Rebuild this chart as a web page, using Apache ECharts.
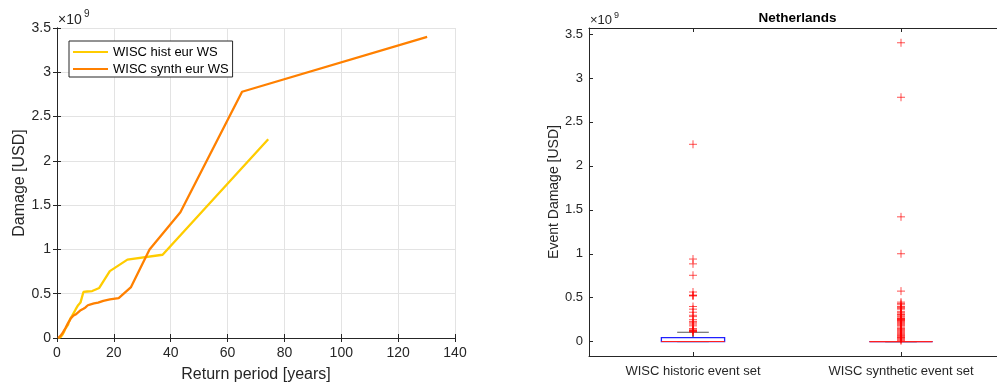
<!DOCTYPE html>
<html>
<head>
<meta charset="utf-8">
<script src="https://cdn.jsdelivr.net/npm/echarts@6/dist/echarts.min.js"></script>
<style>html,body{margin:0;padding:0;background:#fff}#c{width:997px;height:385px}</style>
</head>
<body>
<div id="c"></div>
<script>
// ---- data (damage in units of 1e9 USD) ----
const histRP  = [74.3, 37.15, 24.77, 18.58, 14.86, 12.38, 10.61, 9.29, 8.26, 7.43, 6.75, 6.19, 5.72, 5.31, 4.95, 4.64, 4.37, 4.13, 3.91, 3.72, 3.54, 3.38, 3.23, 3.10, 2.97, 2.86, 2.65, 2.48, 2.25, 2.06, 1.86, 1.65, 1.35, 1.00, 0.40];
const histDmg = [2.245, 0.94, 0.885, 0.755, 0.565, 0.53, 0.525, 0.52, 0.40, 0.37, 0.335, 0.30, 0.285, 0.25, 0.23, 0.215, 0.20, 0.18, 0.15, 0.135, 0.13, 0.125, 0.12, 0.115, 0.11, 0.10, 0.085, 0.07, 0.055, 0.045, 0.035, 0.025, 0.012, 0.004, 0.0];
const synthRP  = [130.2, 65.1, 43.4, 32.55, 26.04, 21.70, 18.60, 16.28, 14.47, 13.02, 11.84, 10.85, 10.02, 9.30, 8.68, 8.14, 7.66, 7.23, 6.85, 6.51, 6.20, 5.92, 5.66, 5.43, 5.21, 5.01, 4.82, 4.65, 4.49, 4.34, 4.07, 3.83, 3.62, 3.43, 3.26, 3.10, 2.96, 2.83, 2.60, 2.41, 2.24, 2.09, 1.86, 1.67, 1.50, 1.30, 1.10, 0.90, 0.40];
const synthDmg = [3.40, 2.78, 1.42, 1.00, 0.575, 0.45, 0.435, 0.42, 0.40, 0.39, 0.38, 0.37, 0.345, 0.33, 0.315, 0.31, 0.30, 0.285, 0.27, 0.265, 0.26, 0.255, 0.25, 0.245, 0.24, 0.23, 0.22, 0.21, 0.20, 0.19, 0.18, 0.165, 0.15, 0.14, 0.13, 0.12, 0.11, 0.10, 0.09, 0.08, 0.07, 0.06, 0.05, 0.045, 0.04, 0.03, 0.02, 0.01, 0.0];
const seriesNames = ['WISC hist eur WS', 'WISC synth eur WS'];
const boxCategories = ['WISC historic event set', 'WISC synthetic event set'];
// [min, Q1, median, Q3, upper whisker]
const boxHist  = [0, 0, 0.002, 0.045, 0.107];
const boxSynth = [0, 0, 0, 0, 0];
const xTicks = [0, 20, 40, 60, 80, 100, 120, 140];
const yTicks = [0, 0.5, 1, 1.5, 2, 2.5, 3, 3.5];

const FONT = 'Liberation Sans, Arial, sans-serif';
const TXT = '#262626';
const zip = (a, b) => a.map((v, i) => [v, b[i]]);

const histOut = histDmg.filter(v => v > boxHist[4]).map(v => [0, v]);
const synthOut = synthDmg.filter(v => v > boxSynth[4]).map(v => [1, v]);

function renderBox(params, api) {
  const cat = api.value(0);
  const band = api.size([1, 0])[0];
  const hw = band * 0.152;
  const p = [1, 2, 3, 4, 5].map(i => api.coord([cat, api.value(i)]));
  const cx = p[2][0];
  const yMin = p[0][1], yQ1 = p[1][1], yMed = p[2][1], yQ3 = p[3][1], yMax = p[4][1];
  const blk = { stroke: '#000', lineWidth: 1 };
  return {
    type: 'group',
    children: [
      { type: 'line', shape: { x1: cx, y1: yQ3, x2: cx, y2: yMax }, style: Object.assign({ lineDash: [3, 2] }, blk) },
      { type: 'line', shape: { x1: cx, y1: yQ1, x2: cx, y2: yMin }, style: Object.assign({ lineDash: [3, 2] }, blk) },
      { type: 'line', shape: { x1: cx - hw / 2, y1: yMax, x2: cx + hw / 2, y2: yMax }, style: { stroke: '#555', lineWidth: 1 } },
      { type: 'line', shape: { x1: cx - hw / 2, y1: yMin, x2: cx + hw / 2, y2: yMin }, style: { stroke: '#555', lineWidth: 1 } },
      { type: 'rect', shape: { x: cx - hw, y: yQ3, width: 2 * hw, height: yQ1 - yQ3 }, style: { fill: 'none', stroke: '#2020ff', lineWidth: 1.3 } },
      { type: 'line', shape: { x1: cx - hw, y1: yMed, x2: cx + hw, y2: yMed }, style: { stroke: '#ff2020', lineWidth: 1.2 } }
    ]
  };
}

const chart = echarts.init(document.getElementById('c'), null, { renderer: 'canvas' });
const axisLineStyle = { color: TXT, width: 1 };
const option = {
  backgroundColor: '#fff',
  animation: false,
  textStyle: { fontFamily: FONT },
  grid: [
    { left: 57, top: 28, width: 398, height: 310, show: false, containLabel: false, outerBoundsMode: 'none' },
    { left: 589, top: 28, width: 416, height: 328, show: false, containLabel: false, outerBoundsMode: 'none' }
  ],
  legend: {
    data: seriesNames.map(n => ({ name: n, icon: 'rect' })),
    orient: 'vertical',
    left: 69, top: 41,
    borderColor: TXT, borderWidth: 1, backgroundColor: '#fff',
    padding: [3, 4, 0, 4],
    itemGap: 1, itemWidth: 35, itemHeight: 2,
    textStyle: { fontSize: 13, color: '#000', fontFamily: FONT, lineHeight: 16 }
  },
  xAxis: [
    { gridIndex: 0, type: 'value', min: 0, max: 140, interval: 20, position: 'bottom',
      name: 'Return period [years]', nameLocation: 'middle', nameGap: 29,
      nameTextStyle: { fontSize: 16, color: TXT, fontFamily: FONT },
      axisLine: { show: true, lineStyle: axisLineStyle },
      axisTick: { show: true, inside: true, length: 4, lineStyle: axisLineStyle },
      axisLabel: { fontSize: 14, color: TXT, margin: 8, fontFamily: FONT },
      splitLine: { show: true, lineStyle: { color: '#e3e3e3', width: 1 } } },
    { gridIndex: 0, type: 'value', min: 0, max: 140, interval: 20, position: 'top',
      axisLine: { show: true, lineStyle: axisLineStyle },
      axisTick: { show: true, inside: true, length: 4, lineStyle: axisLineStyle },
      axisLabel: { show: false }, splitLine: { show: false } },
    { gridIndex: 1, type: 'category', data: boxCategories, position: 'bottom',
      axisLine: { show: true, onZero: false, lineStyle: axisLineStyle },
      axisTick: { show: true, inside: true, length: 4, alignWithLabel: true, lineStyle: axisLineStyle },
      axisLabel: { fontSize: 13, color: TXT, margin: 9, fontFamily: FONT } },
    { gridIndex: 1, type: 'category', data: boxCategories, position: 'top',
      axisLine: { show: true, onZero: false, lineStyle: axisLineStyle },
      axisTick: { show: true, inside: true, length: 4, alignWithLabel: true, lineStyle: axisLineStyle },
      axisLabel: { show: false } }
  ],
  yAxis: [
    { gridIndex: 0, type: 'value', min: 0, max: 3.5, interval: 0.5, position: 'left',
      name: 'Damage [USD]', nameLocation: 'middle', nameGap: 29,
      nameTextStyle: { fontSize: 16, color: TXT, fontFamily: FONT },
      axisLine: { show: true, lineStyle: axisLineStyle },
      axisTick: { show: true, inside: true, length: 4, lineStyle: axisLineStyle },
      axisLabel: { fontSize: 14, color: TXT, margin: 6, fontFamily: FONT },
      splitLine: { show: true, lineStyle: { color: '#e3e3e3', width: 1 } } },
    { gridIndex: 0, type: 'value', min: 0, max: 3.5, interval: 0.5, position: 'right',
      axisLine: { show: true, lineStyle: axisLineStyle },
      axisTick: { show: true, inside: true, length: 4, lineStyle: axisLineStyle },
      axisLabel: { show: false }, splitLine: { show: false } },
    { gridIndex: 1, type: 'value', min: -0.163, max: 3.568, position: 'left',
      name: 'Event Damage [USD]', nameLocation: 'middle', nameGap: 27,
      nameTextStyle: { fontSize: 14, color: TXT, fontFamily: FONT },
      axisLine: { show: true, onZero: false, lineStyle: axisLineStyle },
      axisTick: { show: true, inside: true, length: 4, customValues: yTicks, lineStyle: axisLineStyle },
      axisLabel: { fontSize: 13, color: TXT, margin: 6, customValues: yTicks, fontFamily: FONT },
      splitLine: { show: false } }
  ],
  series: [
    { name: seriesNames[0], type: 'line', xAxisIndex: 0, yAxisIndex: 0, data: zip(histRP, histDmg),
      symbol: 'none', lineStyle: { color: '#FFCC00', width: 2.3 }, itemStyle: { color: '#FFCC00' } },
    { name: seriesNames[1], type: 'line', xAxisIndex: 0, yAxisIndex: 0, data: zip(synthRP, synthDmg),
      symbol: 'none', lineStyle: { color: '#FF8000', width: 2.3 }, itemStyle: { color: '#FF8000' } },
    { type: 'custom', xAxisIndex: 2, yAxisIndex: 2, renderItem: renderBox,
      encode: { x: 0, y: [1, 2, 3, 4, 5] },
      data: [[0].concat(boxHist), [1].concat(boxSynth)], z: 3 },
    { type: 'scatter', xAxisIndex: 2, yAxisIndex: 2, data: histOut.concat(synthOut),
      symbol: 'path://M0,5L10,5M5,0L5,10', symbolSize: 8,
      itemStyle: { color: 'none', borderColor: 'rgba(255,0,0,0.85)', borderWidth: 1 }, z: 4 }
  ],
  graphic: [
    { type: 'text', left: 58, top: 13, style: { text: '×10', fontSize: 14, fill: TXT, fontFamily: FONT } },
    { type: 'text', left: 84, top: 9, style: { text: '9', fontSize: 10, fill: TXT, fontFamily: FONT } },
    { type: 'text', left: 590, top: 14, style: { text: '×10', fontSize: 13, fill: TXT, fontFamily: FONT } },
    { type: 'text', left: 614, top: 11, style: { text: '9', fontSize: 9, fill: TXT, fontFamily: FONT } },
    { type: 'text', x: 797.5, y: 18, style: { text: 'Netherlands', fontSize: 13.5, fontWeight: 'bold', fill: '#000', fontFamily: FONT, textAlign: 'center', textVerticalAlign: 'middle' } }
  ]
};
chart.setOption(option);
</script>
</body>
</html>
